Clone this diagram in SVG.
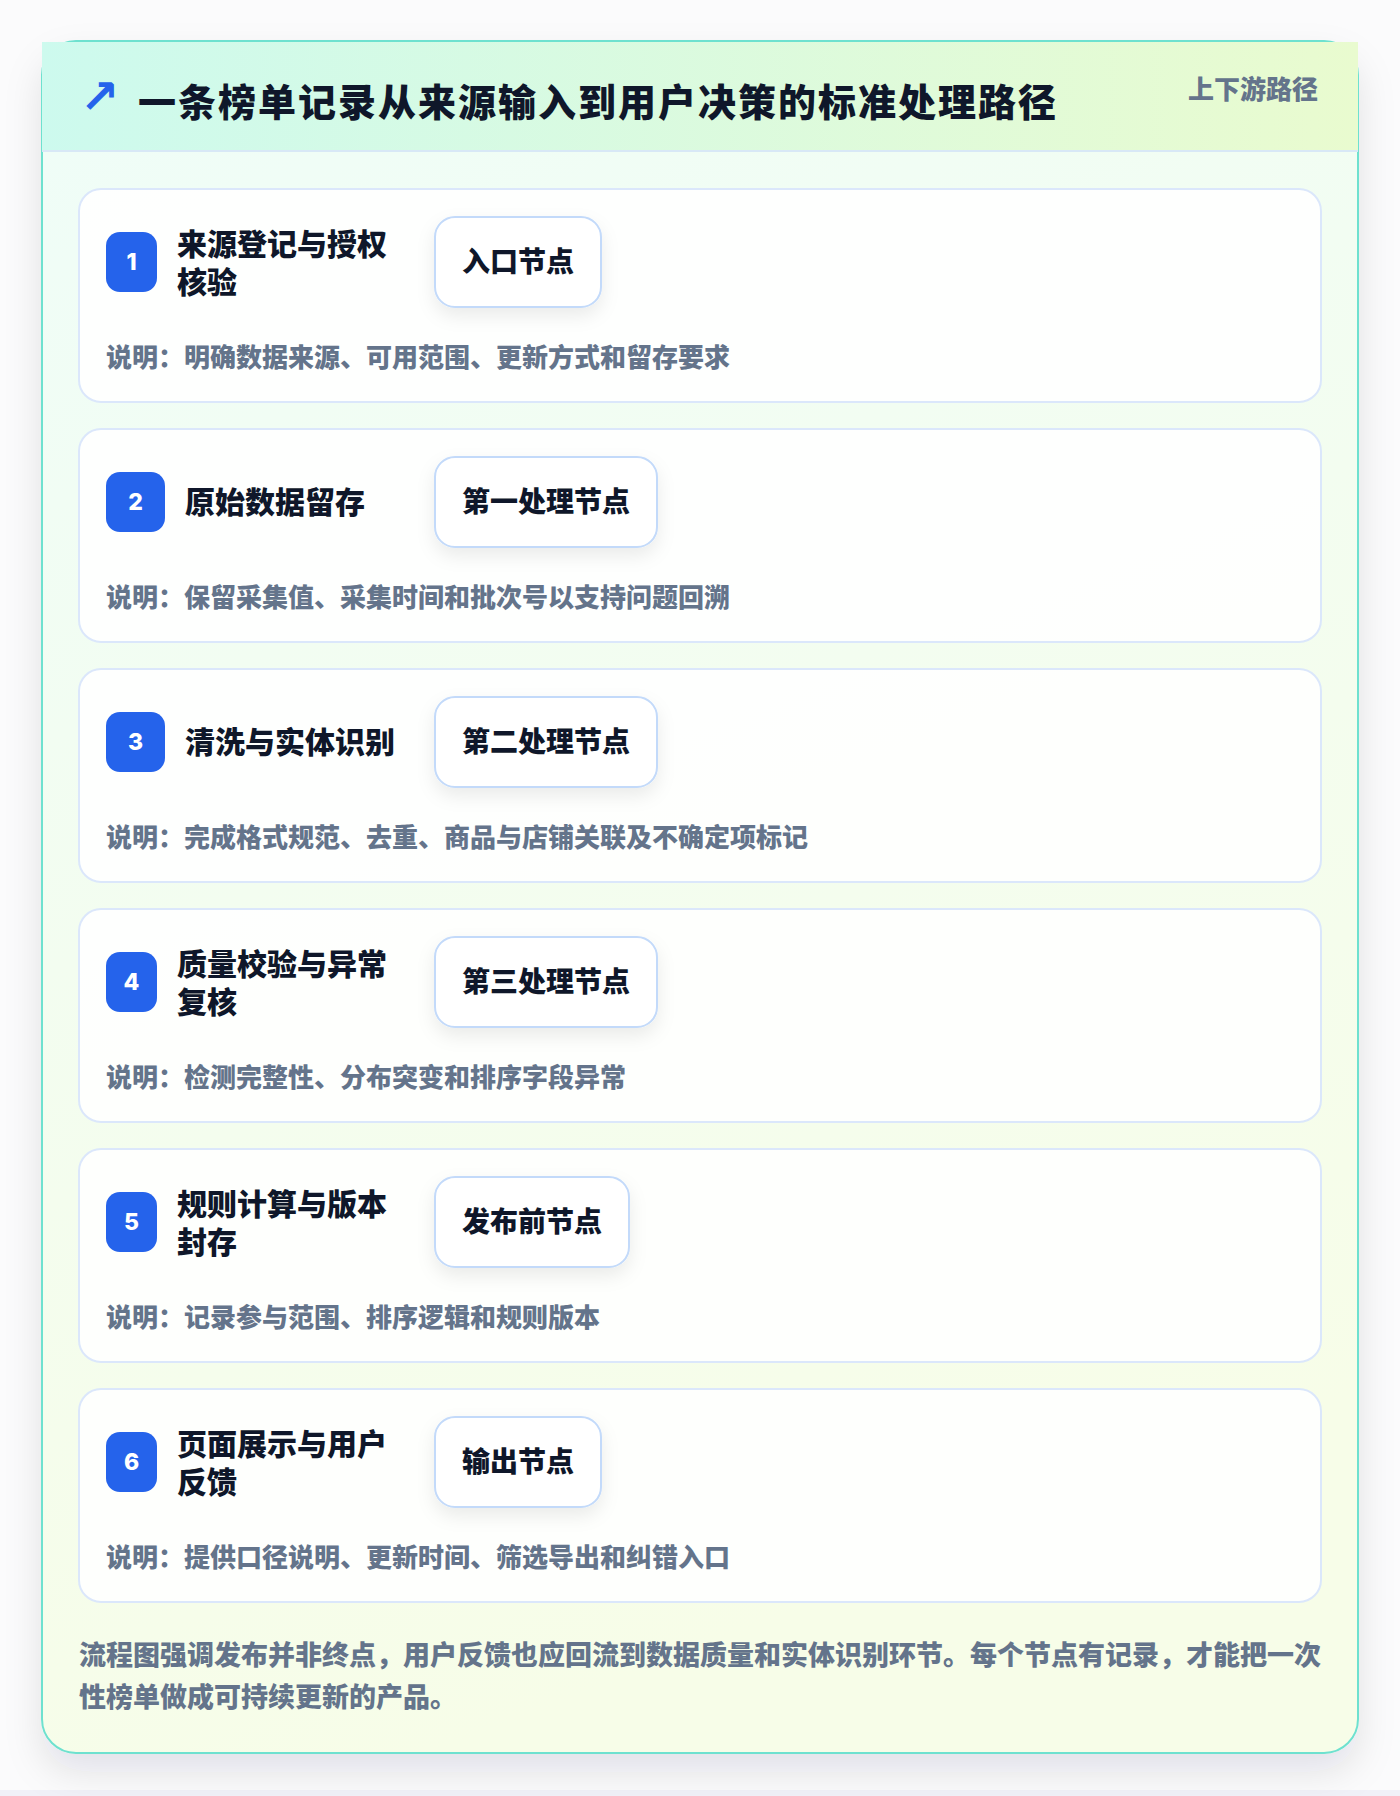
<svg xmlns="http://www.w3.org/2000/svg" width="1400" height="1796" viewBox="0 0 1400 1796">
<defs>
<linearGradient id="bodyBg" x1="0" y1="0" x2="0.3" y2="1">
<stop offset="0" stop-color="#effdf8"/>
<stop offset="1" stop-color="#f7fde8"/>
</linearGradient>
<linearGradient id="headBg" x1="0" y1="0" x2="1" y2="0">
<stop offset="0" stop-color="#cdfaee"/>
<stop offset="1" stop-color="#e9fbcf"/>
</linearGradient>
<filter id="cardShadow" x="-10%" y="-10%" width="120%" height="120%">
<feDropShadow dx="0" dy="18" stdDeviation="18" flood-color="#0f172a" flood-opacity="0.10"/>
</filter>
<filter id="pillShadow" x="-30%" y="-30%" width="160%" height="180%">
<feDropShadow dx="0" dy="8" stdDeviation="9" flood-color="#0f172a" flood-opacity="0.08"/>
</filter>
<style>
.cjk{font-family:"Noto Sans CJK SC","Noto Sans",sans-serif;font-weight:900;}
.h1{font-size:38px;fill:#0f172a;letter-spacing:2px;}
.tag{font-size:26px;fill:#64748b;}
.step{fill:#ffffff;fill-opacity:0.88;stroke:#dbe7fb;stroke-width:2;}
.badge{fill:#2563eb;}
.num{font-family:"Inter","Noto Sans",sans-serif;font-weight:800;font-size:23px;fill:#ffffff;}
.stitle{font-size:30px;fill:#0f172a;}
.pill{fill:#ffffff;stroke:#c3dafa;stroke-width:2;}
.ptext{font-size:28px;fill:#0f172a;}
.desc{font-size:26px;fill:#64748b;}
.foot{font-size:27px;fill:#64748b;}
</style>
</defs>
<rect x="0" y="0" width="1400" height="1796" fill="#fbfbfc"/>
<rect x="0" y="1790" width="1400" height="6" fill="#f1f1f8"/>
<g id="card">
<rect x="42" y="41" width="1316" height="1712" rx="34" fill="url(#bodyBg)" stroke="#6ee1cf" stroke-width="2" filter="url(#cardShadow)"/>
<rect x="42" y="42" width="1316" height="109" fill="url(#headBg)"/>
<line x1="42" y1="151" x2="1358" y2="151" stroke="#d8e8f6" stroke-width="2"/>
<text x="80" y="113" font-family="DejaVu Sans,sans-serif" font-weight="bold" font-size="47" fill="#2563eb">↗</text>
<text class="cjk h1" x="138" y="116">一条榜单记录从来源输入到用户决策的标准处理路径</text>
<text class="cjk tag" x="1318" y="99" text-anchor="end">上下游路径</text>
</g>
<g id="step1">
<rect class="step" x="79" y="189" width="1242" height="213" rx="22"/>
<rect class="badge" x="106" y="232" width="51" height="60" rx="14"/>
<text class="num" x="131.5" y="270" text-anchor="middle">1</text>
<text class="cjk stitle" x="177" y="255">来源登记与授权</text>
<text class="cjk stitle" x="177" y="293">核验</text>
<rect class="pill" x="435" y="217" width="166" height="90" rx="20" filter="url(#pillShadow)"/>
<text class="cjk ptext" x="518" y="272" text-anchor="middle">入口节点</text>
<text class="cjk desc" x="106" y="367">说明：明确数据来源、可用范围、更新方式和留存要求</text>
</g>
<g id="step2">
<rect class="step" x="79" y="429" width="1242" height="213" rx="22"/>
<rect class="badge" x="106" y="472" width="59" height="60" rx="14"/>
<text class="num" x="135.5" y="510" text-anchor="middle">2</text>
<text class="cjk stitle" x="185" y="513">原始数据留存</text>
<rect class="pill" x="435" y="457" width="222" height="90" rx="20" filter="url(#pillShadow)"/>
<text class="cjk ptext" x="546" y="512" text-anchor="middle">第一处理节点</text>
<text class="cjk desc" x="106" y="607">说明：保留采集值、采集时间和批次号以支持问题回溯</text>
</g>
<g id="step3">
<rect class="step" x="79" y="669" width="1242" height="213" rx="22"/>
<rect class="badge" x="106" y="712" width="59" height="60" rx="14"/>
<text class="num" x="135.5" y="750" text-anchor="middle">3</text>
<text class="cjk stitle" x="185" y="753">清洗与实体识别</text>
<rect class="pill" x="435" y="697" width="222" height="90" rx="20" filter="url(#pillShadow)"/>
<text class="cjk ptext" x="546" y="752" text-anchor="middle">第二处理节点</text>
<text class="cjk desc" x="106" y="847">说明：完成格式规范、去重、商品与店铺关联及不确定项标记</text>
</g>
<g id="step4">
<rect class="step" x="79" y="909" width="1242" height="213" rx="22"/>
<rect class="badge" x="106" y="952" width="51" height="60" rx="14"/>
<text class="num" x="131.5" y="990" text-anchor="middle">4</text>
<text class="cjk stitle" x="177" y="975">质量校验与异常</text>
<text class="cjk stitle" x="177" y="1013">复核</text>
<rect class="pill" x="435" y="937" width="222" height="90" rx="20" filter="url(#pillShadow)"/>
<text class="cjk ptext" x="546" y="992" text-anchor="middle">第三处理节点</text>
<text class="cjk desc" x="106" y="1087">说明：检测完整性、分布突变和排序字段异常</text>
</g>
<g id="step5">
<rect class="step" x="79" y="1149" width="1242" height="213" rx="22"/>
<rect class="badge" x="106" y="1192" width="51" height="60" rx="14"/>
<text class="num" x="131.5" y="1230" text-anchor="middle">5</text>
<text class="cjk stitle" x="177" y="1215">规则计算与版本</text>
<text class="cjk stitle" x="177" y="1253">封存</text>
<rect class="pill" x="435" y="1177" width="194" height="90" rx="20" filter="url(#pillShadow)"/>
<text class="cjk ptext" x="532" y="1232" text-anchor="middle">发布前节点</text>
<text class="cjk desc" x="106" y="1327">说明：记录参与范围、排序逻辑和规则版本</text>
</g>
<g id="step6">
<rect class="step" x="79" y="1389" width="1242" height="213" rx="22"/>
<rect class="badge" x="106" y="1432" width="51" height="60" rx="14"/>
<text class="num" x="131.5" y="1470" text-anchor="middle">6</text>
<text class="cjk stitle" x="177" y="1455">页面展示与用户</text>
<text class="cjk stitle" x="177" y="1493">反馈</text>
<rect class="pill" x="435" y="1417" width="166" height="90" rx="20" filter="url(#pillShadow)"/>
<text class="cjk ptext" x="518" y="1472" text-anchor="middle">输出节点</text>
<text class="cjk desc" x="106" y="1567">说明：提供口径说明、更新时间、筛选导出和纠错入口</text>
</g>
<g id="connectors"></g>
<g id="footer">
<text class="cjk foot" x="79" y="1665">流程图强调发布并非终点，用户反馈也应回流到数据质量和实体识别环节。每个节点有记录，才能把一次</text>
<text class="cjk foot" x="79" y="1707">性榜单做成可持续更新的产品。</text>
</g>
</svg>
